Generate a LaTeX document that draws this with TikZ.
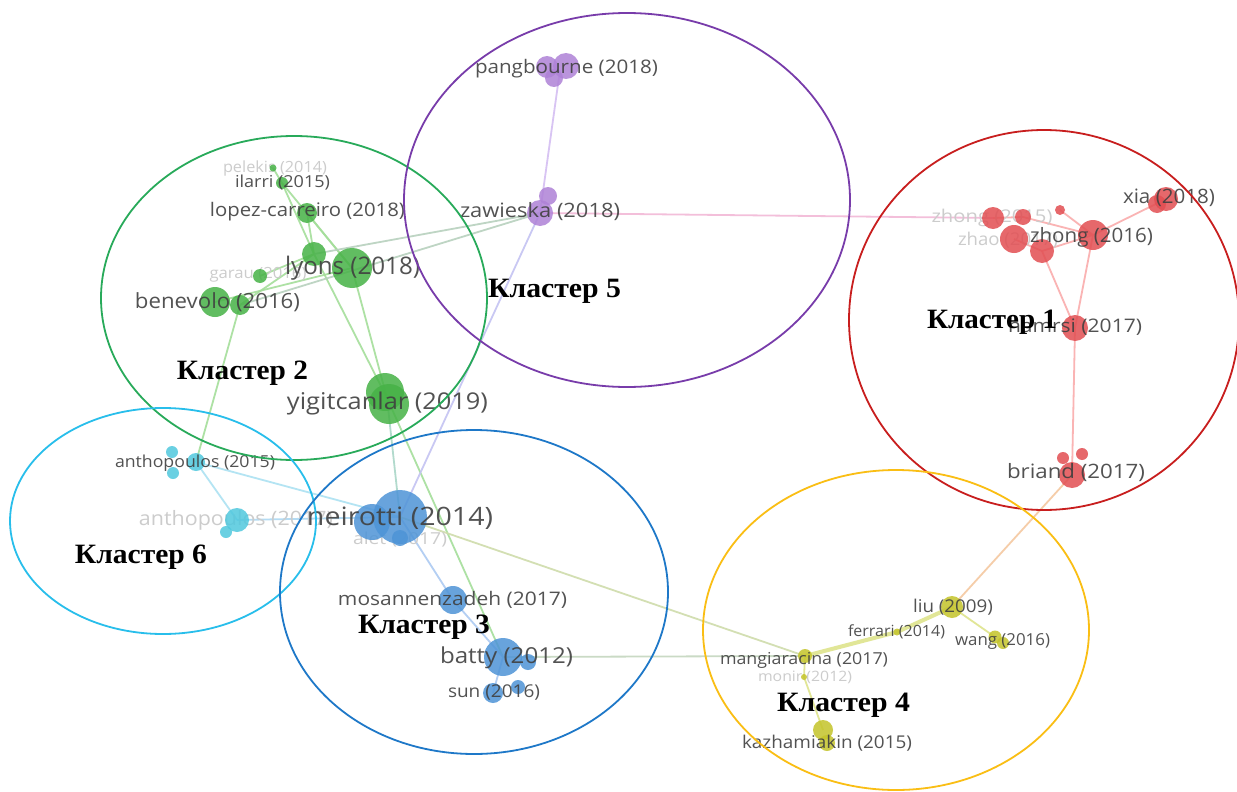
\documentclass[tikz,border=0pt]{standalone}
\usepackage{fontspec}
\setmainfont{Open Sans}
\newfontfamily\clfont{Liberation Serif}
\usepackage{graphicx}
\definecolor{cG}{RGB}{70,178,70}
\definecolor{cP}{RGB}{175,130,215}
\definecolor{cR}{RGB}{226,78,82}
\definecolor{cC}{RGB}{80,200,222}
\definecolor{cB}{RGB}{78,148,215}
\definecolor{cY}{RGB}{196,196,42}
\definecolor{eG}{RGB}{165,222,155}
\definecolor{eP}{RGB}{212,190,242}
\definecolor{ePk}{RGB}{242,185,215}
\definecolor{eR}{RGB}{250,172,172}
\definecolor{eC}{RGB}{172,226,242}
\definecolor{eB}{RGB}{172,202,242}
\definecolor{eY}{RGB}{222,228,140}
\definecolor{eO}{RGB}{245,200,160}
\definecolor{eGB}{RGB}{170,215,200}
\definecolor{kG}{RGB}{40,170,90}
\definecolor{kP}{RGB}{120,60,170}
\definecolor{kR}{RGB}{200,30,30}
\definecolor{kC}{RGB}{40,190,235}
\definecolor{kB}{RGB}{30,120,200}
\definecolor{kY}{RGB}{250,190,20}
\newcommand{\lt}[3]{\fontsize{#1}{#1}\selectfont\resizebox{#2pt}{1.1\height}{#3}}
\newcommand{\kt}[2]{\clfont\bfseries\fontsize{28}{28}\selectfont\resizebox{#1pt}{\height}{#2}}
\tikzset{
  every node/.style={inner sep=0pt, outer sep=0pt},
  gdot/.style={circle, fill=cG, fill opacity=.85, minimum size=#1pt},
  pdot/.style={circle, fill=cP, fill opacity=.85, minimum size=#1pt},
  rdot/.style={circle, fill=cR, fill opacity=.85, minimum size=#1pt},
  cdot/.style={circle, fill=cC, fill opacity=.85, minimum size=#1pt},
  bdot/.style={circle, fill=cB, fill opacity=.85, minimum size=#1pt},
  ydot/.style={circle, fill=cY, fill opacity=.85, minimum size=#1pt},
  lbl/.style={text=black!75, text opacity=.9},
  faint/.style={text=black!20},
  klbl/.style={text=black},
  edge/.style={line width=1.8pt, draw opacity=.9},
  clus/.style={line width=1.8pt},
}
\begin{document}
\begin{tikzpicture}[x=1pt,y=-1pt]
\useasboundingbox (0,0) rectangle (1237,792);
\fill[white] (0,0) rectangle (1237,792);

% ---------- node coordinates ----------
\coordinate (pel) at (273,168);
\coordinate (ila) at (282,183);
\coordinate (lop) at (307,213);
\coordinate (lyS) at (314,254);
\coordinate (lyB) at (352,268);
\coordinate (gar) at (260,276);
\coordinate (benB) at (215,302);
\coordinate (benS) at (240,305);
\coordinate (yig) at (387,398);
\coordinate (pang) at (560,70);
\coordinate (zaw) at (540,213);
\coordinate (zh15) at (993,218);
\coordinate (zh15b) at (1023,217);
\coordinate (rsm) at (1060,210);
\coordinate (zhao) at (1014,239);
\coordinate (rmid) at (1042,251);
\coordinate (zh16) at (1093,235);
\coordinate (xia) at (1166,199);
\coordinate (ham) at (1075,328);
\coordinate (bri) at (1072,475);
\coordinate (an15) at (196,462);
\coordinate (an17) at (237,520);
\coordinate (nei) at (400,517);
\coordinate (mos) at (453,600);
\coordinate (bat) at (503,657);
\coordinate (sun) at (493,693);
\coordinate (liu) at (952,607);
\coordinate (fer) at (897,632);
\coordinate (wan) at (995,637);
\coordinate (man) at (805,656);
\coordinate (mon) at (804,677);
\coordinate (kaz) at (823,730);

% ---------- edges ----------
\draw[edge, eG] (pel) -- (ila);
\draw[edge, eG] (ila) -- (lyS);
\draw[edge, eG] (ila) -- (lyB);
\draw[edge, eG] (lop) -- (lyS);
\draw[edge, eG] (lop) -- (lyB);
\draw[edge, eG] (gar) -- (lyS);
\draw[edge, eG] (benS) -- (lyS);
\draw[edge, eG] (benB) -- (lyB);
\draw[edge, eG] (lyS) -- (yig);
\draw[edge, eG] (lyB) -- (yig);
\draw[edge, eG] (benS) -- (an15);
\draw[edge, eG!60!eP] (lyS) -- (zaw);
\draw[edge, eG!60!eP] (benS) -- (zaw);
\draw[edge, eGB] (yig) -- (nei);
\draw[edge, eG] (yig) -- (bat);
\draw[edge, eP] (pang) -- (zaw);
\draw[edge, eP!60!eB] (zaw) -- (nei);
\draw[edge, ePk] (zaw) -- (zh15);
\draw[edge, eR] (zh15) -- (zh15b);
\draw[edge, eR] (zh15b) -- (zh16);
\draw[edge, eR] (rsm) -- (zh16);
\draw[edge, eR] (zhao) -- (rmid);
\draw[edge, eR] (rmid) -- (zh16);
\draw[edge, eR] (zh16) -- (xia);
\draw[edge, eR] (rmid) -- (ham);
\draw[edge, eR] (zh16) -- (ham);
\draw[edge, eR] (ham) -- (bri);
\draw[edge, eO] (bri) -- (liu);
\draw[edge, eC] (an15) -- (an17);
\draw[edge, eC] (an15) -- (nei);
\draw[edge, eC!60!eB] (an17) -- (nei);
\draw[edge, eB] (nei) -- (mos);
\draw[edge, eB] (mos) -- (bat);
\draw[edge, eB] (bat) -- (sun);
\draw[edge, eY!70!eB] (nei) -- (man);
\draw[edge, eB!50!eY] (bat) -- (man);
\draw[edge, eY, line width=4pt] (liu) -- (fer) -- (man);
\draw[edge, eY] (liu) -- (wan);
\draw[edge, eY] (man) -- (mon) -- (kaz);

% ---------- faint labels ----------
\node[faint] (Lpel) at (275,168) {\lt{14}{104}{pelekis (2014)}};
\node[faint] (Lgar) at (258,275) {\lt{14}{97}{garau (2016)}};
\node[faint] (Lzh15) at (992,218) {\lt{16}{121}{zhong (2015)}};
\node[faint] (Lzhao) at (1008,240) {\lt{16}{100}{zhao (2017)}};
\node[faint] (Lan17) at (236,520) {\lt{18}{194}{anthopoulos (2017)}};
\node[faint] (Lale) at (400,540) {\lt{15}{94}{alet (2017)}};
\node[faint] (Lmon) at (805,677) {\lt{13}{94}{monir (2012)}};

% ---------- nodes ----------
\node[gdot=7] (Npel) at (pel) {};
\node[gdot=12] (Nila) at (ila) {};
\node[gdot=20] (Nlop) at (lop) {};
\node[gdot=24] (NlyS) at (lyS) {};
\node[gdot=40] (NlyB) at (lyB) {};
\node[gdot=14] (Ngar) at (gar) {};
\node[gdot=30] (NbenB) at (benB) {};
\node[gdot=20] (NbenS) at (benS) {};
\node[gdot=38] (Nyig1) at (385,392) {};
\node[gdot=40] (Nyig2) at (389,404) {};
\node[pdot=22] (Npa1) at (547,67) {};
\node[pdot=26] (Npa2) at (566,66) {};
\node[pdot=18] (Npa3) at (554,78) {};
\node[pdot=18] (Nza1) at (548,196) {};
\node[pdot=26] (Nza2) at (zaw) {};
\node[rdot=22] (Nzh15) at (zh15) {};
\node[rdot=16] (Nzh15b) at (zh15b) {};
\node[rdot=10] (Nrsm) at (rsm) {};
\node[rdot=28] (Nzhao) at (zhao) {};
\node[rdot=24] (Nrmid) at (rmid) {};
\node[rdot=30] (Nzh16) at (zh16) {};
\node[rdot=18] (Nxia2) at (1157,204) {};
\node[rdot=24] (Nxia) at (xia) {};
\node[rdot=26] (Nham) at (ham) {};
\node[rdot=26] (Nbri) at (bri) {};
\node[rdot=12] (Nbri2) at (1063,458) {};
\node[rdot=12] (Nbri3) at (1082,454) {};
\node[cdot=12] (Nan1) at (172,452) {};
\node[cdot=12] (Nan2) at (173,473) {};
\node[cdot=18] (Nan15) at (an15) {};
\node[cdot=24] (Nan17) at (an17) {};
\node[cdot=12] (Nan17b) at (226,532) {};
\node[bdot=36] (Nnei2) at (372,522) {};
\node[bdot=54] (Nnei) at (nei) {};
\node[bdot=16] (Nnei3) at (400,538) {};
\node[bdot=28] (Nmos) at (mos) {};
\node[bdot=38] (Nbat) at (bat) {};
\node[bdot=16] (Nbat2) at (528,662) {};
\node[bdot=20] (Nsun) at (sun) {};
\node[bdot=14] (Nsun2) at (518,687) {};
\node[ydot=22] (Nliu) at (liu) {};
\node[ydot=7] (Nfer) at (fer) {};
\node[ydot=13] (Nwan) at (wan) {};
\node[ydot=12] (Nwan2) at (1003,643) {};
\node[ydot=14] (Nman) at (man) {};
\node[ydot=6] (Nmon) at (mon) {};
\node[ydot=20] (Nkaz) at (kaz) {};
\node[ydot=16] (Nkaz2) at (827,743) {};

% ---------- labels ----------
\node[lbl] (Lila) at (282.5,183) {\lt{15}{95}{ilarri (2015)}};
\node[lbl] (Llop) at (307.5,212) {\lt{17}{195}{lopez-carreiro (2018)}};
\node[lbl] (Llyo) at (352.5,268) {\lt{22}{135}{lyons (2018)}};
\node[lbl] (Lben) at (217.5,302) {\lt{19}{165}{benevolo (2016)}};
\node[lbl] (Lyig) at (387.5,403) {\lt{21}{201}{yigitcanlar (2019)}};
\node[lbl] (Lzaw) at (540,212) {\lt{18}{160}{zawieska (2018)}};
\node[lbl] (Lpan) at (566.5,69) {\lt{17}{183}{pangbourne (2018)}};
\node[lbl] (Lzh16) at (1091.5,237) {\lt{18}{123}{zhong (2016)}};
\node[lbl] (Lxia) at (1169,198) {\lt{18}{92}{xia (2018)}};
\node[lbl] (Lham) at (1075,327) {\lt{17}{134}{hamrsi (2017)}};
\node[lbl] (Lbri) at (1076,473) {\lt{18}{138}{briand (2017)}};
\node[lbl] (Lan15) at (195,463) {\lt{15}{160}{anthopoulos (2015)}};
\node[lbl] (Lnei) at (400,518) {\lt{23}{186}{neirotti (2014)}};
\node[lbl] (Lmos) at (452.5,600) {\lt{17}{229}{mosannenzadeh (2017)}};
\node[lbl] (Lbat) at (506.5,658) {\lt{20}{133}{batty (2012)}};
\node[lbl] (Lsun) at (494,693) {\lt{16}{92}{sun (2016)}};
\node[lbl] (Lliu) at (953,607) {\lt{16}{80}{liu (2009)}};
\node[lbl] (Lfer) at (896.5,632) {\lt{14}{97}{ferrari (2014)}};
\node[lbl] (Lwan) at (1002.5,641) {\lt{15}{95}{wang (2016)}};
\node[lbl] (Lman) at (804,660) {\lt{15}{168}{mangiaracina (2017)}};
\node[lbl] (Lkaz) at (827,743) {\lt{16}{170}{kazhamiakin (2015)}};

% ---------- cluster ellipses ----------
\draw[clus, kG] (294,298) ellipse [x radius=193pt, y radius=162pt];
\draw[clus, kP] (627,200) ellipse [x radius=223pt, y radius=187pt];
\draw[clus, kR] (1044,320) ellipse [x radius=195pt, y radius=190pt];
\draw[clus, kC] (163,521) ellipse [x radius=153pt, y radius=113pt];
\draw[clus, kB] (474,592) ellipse [x radius=194pt, y radius=162pt];
\draw[clus, kY] (896,630) ellipse [x radius=193pt, y radius=160pt];

% ---------- cluster labels ----------
\node[klbl] (K1) at (992,322) {\kt{130}{Кластер 1}};
\node[klbl] (K2) at (242.5,373) {\kt{131}{Кластер 2}};
\node[klbl] (K3) at (424,627) {\kt{132}{Кластер 3}};
\node[klbl] (K4) at (843.5,705) {\kt{133}{Кластер 4}};
\node[klbl] (K5) at (554.5,291) {\kt{133}{Кластер 5}};
\node[klbl] (K6) at (141,557) {\kt{132}{Кластер 6}};
\end{tikzpicture}
\end{document}
